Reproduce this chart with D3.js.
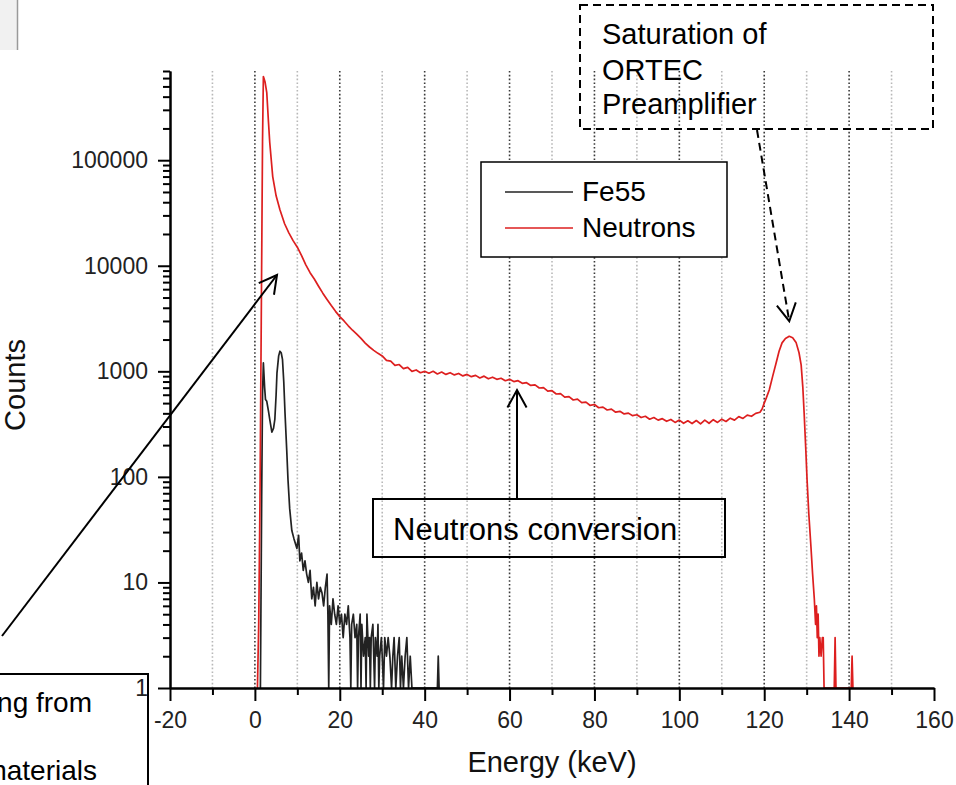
<!DOCTYPE html>
<html>
<head>
<meta charset="utf-8">
<script src="https://cdn.jsdelivr.net/npm/d3@7"></script>
<style>
  body { margin: 0; background: #fff; }
  svg { display: block; font-family: "Liberation Sans", Arial, sans-serif; }
</style>
</head>
<body>
<svg id="chart" width="956" height="785"></svg>
<script>
// == Daten ==
const seriesNames = ['Fe55', 'Neutrons'];
const seriesColors = ['#222222', '#dd1f1f'];

// Neutronen-Spektrum: Energie (keV) / Counts
const neutronEnergy = [
  0.6, 0.9, 1.2, 1.5, 1.8, 2.0, 2.4, 2.8, 3.2, 3.5, 4.2, 5.0, 5.9, 7, 8, 9, 10, 11, 12, 13, 14, 15, 16, 17, 18, 19,
  20, 21, 22, 23, 24, 25, 26, 27, 28, 29,
  30, 31, 32, 33, 34, 35, 36, 37, 38, 39, 40, 41, 42, 43, 44, 45, 46, 47, 48, 49,
  50, 51, 52, 53, 54, 55, 56, 57, 58, 59, 60, 61, 62, 63, 64, 65, 66, 67, 68, 69,
  70, 71, 72, 73, 74, 75, 76, 77, 78, 79, 80, 81, 82, 83, 84, 85, 86, 87, 88, 89,
  90, 91, 92, 93, 94, 95, 96, 97, 98, 99, 100, 101, 102, 103, 104, 105, 106, 107, 108, 109,
  110, 111, 112, 113, 114, 115, 116, 117, 118,
  119, 119.5, 120, 120.5, 121.2, 122, 122.8, 123.5, 124.2, 125, 125.9, 126.7, 127.5, 128.2, 128.7,
  129.1, 129.4, 129.8, 130.1, 130.5, 131, 131.4, 131.8, 132.1, 132.3, 132.5, 132.7, 132.9, 133.1,
  133.4, 133.7, 133.9, 134.1, 136.5, 136.7, 136.9, 140.5, 140.7, 140.9
];
const neutronCounts = [
  0, 4, 60, 3000, 150000, 620000, 550000, 436000, 230000, 147000, 70000, 46000, 34000, 25000, 20500, 17300, 15000, 12500, 10200, 8600, 7500, 6400, 5500, 4800, 4200, 3700,
  3300, 3000, 2700, 2450, 2250, 2050, 1850, 1700, 1580, 1480,
  1400, 1270, 1250, 1140, 1160, 1060, 1090, 1000, 1030, 970, 1000, 960, 1000, 945, 985, 935, 970, 925, 955, 905,
  935, 890, 915, 865, 900, 850, 880, 840, 860, 815, 840, 800, 815, 770, 780, 735, 745, 695, 700, 650,
  655, 610, 615, 570, 575, 535, 545, 505, 510, 475, 485, 452, 458, 430, 438, 410, 418, 395, 402, 380,
  388, 365, 375, 352, 365, 345, 356, 336, 350, 328, 345, 322, 340, 320, 342, 318, 345, 322, 348, 328,
  352, 335, 360, 345, 372, 358, 385, 375, 400,
  410, 440, 500, 560, 670, 900, 1200, 1550, 1860, 2050, 2150, 2080, 1880, 1500, 1150,
  700, 405, 180, 93, 45, 22, 12, 7, 4, 6, 3, 5, 2, 3,
  2, 3, 3, 0, 0, 3, 0, 0, 2, 0
];

// Fe55-Spektrum: Energie (keV) / Counts
const fe55Energy = [
  1.3, 1.4, 1.6, 1.8, 2.0, 2.3, 2.5, 2.8, 3.2, 3.5, 4.0, 4.4, 4.7, 5.0, 5.2, 5.6, 5.9, 6.2, 6.5, 6.8,
  7.1, 7.5, 7.8, 8.2, 8.7, 9.2, 9.9, 10.3, 10.6, 11, 11.4, 11.8, 12.2, 12.6, 13, 13.4, 13.8, 14.2, 14.6,
  15, 15.4, 15.8, 16.2, 16.6, 17, 17.2, 17.4, 17.6, 18, 18.4, 18.8, 19.2, 19.6, 20, 20.4, 20.8, 21.2,
  21.6, 22, 22.4, 22.6, 22.8, 23.2, 23.6, 24, 24.2, 24.4, 24.8, 25, 25.2, 25.6, 26, 26.2, 26.4, 26.8,
  27, 27.2, 27.4, 27.8, 28, 28.2, 28.4, 28.8, 29, 29.2, 29.4, 29.8, 30, 30.3, 30.6, 31, 31.4, 31.8,
  32.2, 32.5, 32.8, 33.2, 33.6, 34, 34.3, 34.6, 35, 35.4, 35.8, 36.2, 36.6, 37, 43, 43.2, 43.4
];
const fe55Counts = [
  1, 4, 65, 600, 1200, 700, 540, 520, 420, 350, 265, 290, 350, 600, 960, 1400, 1550, 1500, 1300, 800,
  400, 180, 94, 50, 31, 26, 21, 28, 16, 19, 13, 16, 12, 10, 13, 7, 9, 6, 10,
  7, 9, 8, 6, 9, 12, 5, 0, 6, 4, 7, 5, 4, 6, 4, 5, 3, 5,
  4, 6, 3, 0, 4, 5, 3, 4, 0, 3, 5, 0, 4, 2, 3, 0, 5, 2,
  3, 0, 3, 4, 2, 0, 3, 2, 4, 0, 2, 3, 2, 0, 3, 2, 3, 2,
  0, 2, 3, 0, 2, 3, 0, 2, 0, 2, 3, 0, 2, 0, 0, 2, 0
];

// Achsen-Ticks
const xMajorTicks = [-20, 0, 20, 40, 60, 80, 100, 120, 140, 160];
const xMinorTicks = [-10, 10, 30, 50, 70, 90, 110, 130, 150];
const xGridValues = [-10, 0, 10, 20, 30, 40, 50, 60, 70, 80, 90, 100, 110, 120, 130, 140, 150];
const yMajorTicks = [1, 10, 100, 1000, 10000, 100000];
const yMinorTicks = [];
for (let decade of [1, 10, 100, 1000, 10000, 100000]) {
  for (let m = 2; m <= 9; m++) {
    if (decade * m <= 700000) yMinorTicks.push(decade * m);
  }
}

// == Grundgerüst ==
const svg = d3.select('#chart');
const x = d3.scaleLinear().domain([-20, 160]).range([170, 934]);
const y = d3.scaleLog().domain([1, 700000]).range([688, 71]);

// graues Fensterstück oben links
svg.append('rect').attr('x', 0).attr('y', 0).attr('width', 17).attr('height', 50).attr('fill', '#f1f1f1');
svg.append('line').attr('x1', 17.5).attr('x2', 17.5).attr('y1', 0).attr('y2', 50)
  .attr('stroke', '#9a9a9a').attr('stroke-width', 1.5);

// vertikale gepunktete Gitterlinien
svg.append('g')
  .selectAll('line')
  .data(xGridValues)
  .join('line')
  .attr('x1', d => x(d)).attr('x2', d => x(d))
  .attr('y1', y(700000)).attr('y2', y(1))
  .attr('stroke', d => d % 20 === 0 ? '#3a3a3a' : '#b8b8b8')
  .attr('stroke-width', 1.6)
  .attr('stroke-dasharray', '1.6,2.2');

// == Kurven ==
const line = d3.line()
  .x(d => x(d[0]))
  .y(d => y(Math.max(d[1], 1)));

const seriesData = [
  d3.zip(fe55Energy, fe55Counts),
  d3.zip(neutronEnergy, neutronCounts)
];

svg.append('g')
  .selectAll('path')
  .data(seriesData)
  .join('path')
  .attr('d', line)
  .attr('fill', 'none')
  .attr('stroke', (d, i) => seriesColors[i])
  .attr('stroke-width', 1.7)
  .attr('stroke-linejoin', 'round');

// == Achsen ==
function styleAxis(g, fontSize) {
  g.attr('font-family', null).attr('font-size', fontSize);
  g.select('.domain').attr('stroke', '#000').attr('stroke-width', 2);
  g.selectAll('.tick line').attr('stroke', '#000').attr('stroke-width', 2);
  g.selectAll('.tick text').attr('fill', '#222');
}

svg.append('g')
  .attr('transform', 'translate(0,688)')
  .call(d3.axisBottom(x).tickValues(xMinorTicks).tickSize(7).tickSizeOuter(0).tickFormat(''))
  .call(g => styleAxis(g, 23));
svg.append('g')
  .attr('transform', 'translate(0,688)')
  .call(d3.axisBottom(x).tickValues(xMajorTicks).tickSize(13).tickSizeOuter(0).tickPadding(11)
    .tickFormat(d => String(d)))
  .call(g => styleAxis(g, 23));

svg.append('g')
  .attr('transform', 'translate(170,0)')
  .call(d3.axisLeft(y).tickValues(yMinorTicks).tickSize(7).tickSizeOuter(0).tickFormat(''))
  .call(g => styleAxis(g, 23));
svg.append('g')
  .attr('transform', 'translate(170,0)')
  .call(d3.axisLeft(y).tickValues(yMajorTicks).tickSize(12).tickSizeOuter(0).tickPadding(10)
    .tickFormat(d => String(d)))
  .call(g => styleAxis(g, 23));

// Achsentitel
svg.append('text')
  .attr('x', 552).attr('y', 772)
  .attr('text-anchor', 'middle')
  .attr('font-size', 29)
  .attr('fill', '#111')
  .text('Energy (keV)');
svg.append('text')
  .attr('transform', 'translate(25,385) rotate(-90)')
  .attr('text-anchor', 'middle')
  .attr('font-size', 29)
  .attr('fill', '#111')
  .text('Counts');

// == Legende ==
const legend = svg.append('g');
legend.append('rect')
  .attr('x', 481).attr('y', 162).attr('width', 246).attr('height', 95)
  .attr('fill', '#fff').attr('stroke', '#000').attr('stroke-width', 1.5);
const legendItems = legend.selectAll('g.item')
  .data(seriesNames)
  .join('g')
  .attr('class', 'item')
  .attr('transform', (d, i) => `translate(0,${192 + i * 36})`);
legendItems.append('line')
  .attr('x1', 505).attr('x2', 573)
  .attr('stroke', (d, i) => seriesColors[i])
  .attr('stroke-width', 1.5);
legendItems.append('text')
  .attr('x', 582).attr('y', 9)
  .attr('font-size', 28)
  .attr('fill', '#000')
  .text(d => d);

// == Annotationen ==
const notes = svg.append('g');

function arrow(x1, y1, x2, y2, dashed) {
  notes.append('line')
    .attr('x1', x1).attr('y1', y1).attr('x2', x2).attr('y2', y2)
    .attr('stroke', '#000').attr('stroke-width', 2)
    .attr('stroke-dasharray', dashed ? '8,5' : null);
  const a = Math.atan2(y2 - y1, x2 - x1);
  const len = 20;
  const spread = 0.5;
  const p1 = [x2 - len * Math.cos(a - spread), y2 - len * Math.sin(a - spread)];
  const p2 = [x2 - len * Math.cos(a + spread), y2 - len * Math.sin(a + spread)];
  notes.append('path')
    .attr('d', `M${p1[0]},${p1[1]}L${x2},${y2}L${p2[0]},${p2[1]}`)
    .attr('fill', 'none').attr('stroke', '#000').attr('stroke-width', 2);
}

// Sättigung
notes.append('rect')
  .attr('x', 580).attr('y', 5).attr('width', 353).attr('height', 124)
  .attr('fill', 'none').attr('stroke', '#000').attr('stroke-width', 2)
  .attr('stroke-dasharray', '8,5');
notes.selectAll('text.sat')
  .data(['Saturation of', 'ORTEC', 'Preamplifier'])
  .join('text')
  .attr('class', 'sat')
  .attr('x', 602)
  .attr('y', (d, i) => [44, 80, 114][i])
  .attr('font-size', 29)
  .attr('fill', '#000')
  .text(d => d);
arrow(757, 130, x(125.9), y(2150) - 15, true);

// Neutronen-Konversion
notes.append('rect')
  .attr('x', 373).attr('y', 499).attr('width', 352).attr('height', 58)
  .attr('fill', 'none').attr('stroke', '#000').attr('stroke-width', 2);
notes.append('text')
  .attr('x', 393).attr('y', 540)
  .attr('font-size', 31)
  .attr('fill', '#000')
  .text('Neutrons conversion');
arrow(517, 499, 517, 390, false);

// Box unten links (am Bildrand abgeschnitten wie im Original)
notes.append('rect')
  .attr('x', -40).attr('y', 674).attr('width', 188).attr('height', 140)
  .attr('fill', 'none').attr('stroke', '#000').attr('stroke-width', 2);
notes.append('text')
  .attr('x', 92).attr('y', 712)
  .attr('text-anchor', 'end')
  .attr('font-size', 28)
  .attr('fill', '#000')
  .text('coming from');
notes.append('text')
  .attr('x', 97).attr('y', 780)
  .attr('text-anchor', 'end')
  .attr('font-size', 28)
  .attr('fill', '#000')
  .text('materials');
arrow(2, 636, 277, 275, false);
</script>
</body>
</html>
